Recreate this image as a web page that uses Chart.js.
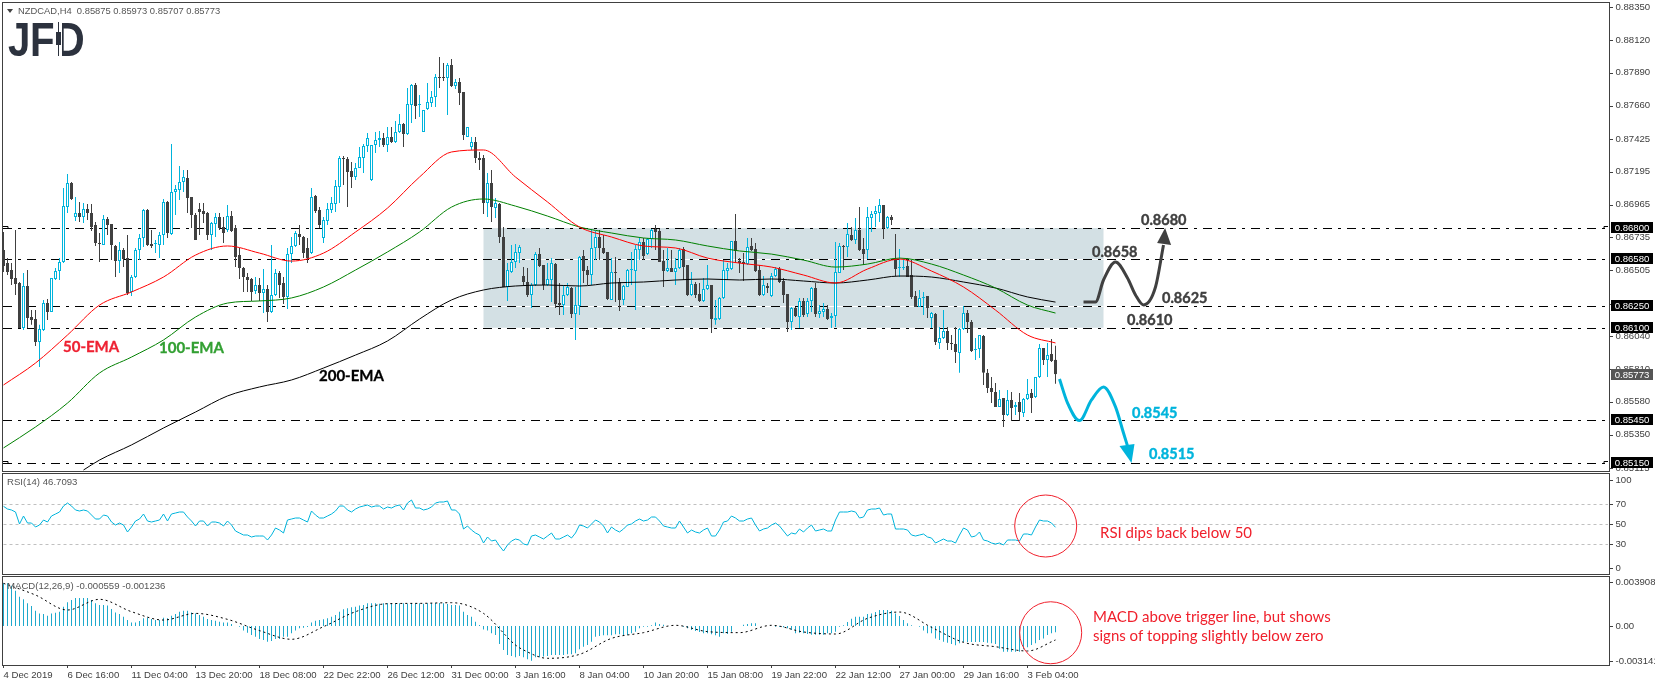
<!DOCTYPE html>
<html lang="en">
<head>
    <meta charset="UTF-8">
    <title>NZDCAD,H4</title>
    <script src="https://cdn.jsdelivr.net/npm/chart.js"></script>
    <style>
        body { margin: 0; background: #fff; }
        canvas { position: absolute; left: 0; }
    </style>
</head>
<body>
    <canvas id="main" width="1655" height="472" style="top:0"></canvas>
    <canvas id="rsi" width="1655" height="103" style="top:472px"></canvas>
    <canvas id="macd" width="1655" height="111" style="top:575px"></canvas>

    <script>
        // prices are in points (1 point = 0.00001)
        var opens = [
            86646,86555,86506,86449,86414,86098,86393,86176,86162,86000,
            86084,86274,86211,86442,86499,86562,86948,87116,86878,86906,
            86878,86934,86906,86821,86695,86681,86864,86828,86674,86569,
            86646,86590,86351,86456,86646,86730,86927,86688,86688,86681,
            86751,86983,86758,87053,87067,87123,87151,87018,86892,86934,
            86920,86906,86751,86828,86878,86807,86786,86885,86800,86611,
            86520,86456,86442,86358,86400,86344,86372,86211,86330,86485,
            86414,86316,86618,86674,86758,86737,86660,86625,87025,86927,
            86730,86850,86927,86969,87088,87292,87285,87201,87158,87222,
            87292,87376,87137,87383,87418,87432,87383,87439,87404,87474,
            87530,87460,87664,87804,87664,87474,87636,87678,87720,87860,
            87860,87853,87945,87797,87825,87755,87439,87369,87404,87292,
            87292,86976,87116,86941,86969,86737,86386,86492,86562,86625,
            86463,86421,86330,86400,86618,86541,86400,86435,86548,86274,
            86260,86330,86379,86197,86253,86604,86506,86471,86660,86737,
            86660,86632,86295,86492,86421,86295,86386,86506,86499,86646,
            86702,86618,86723,86793,86779,86569,86499,86520,86492,86520,
            86653,86541,86330,86407,86337,86288,86372,86400,86155,86162,
            86309,86499,86513,86709,86569,86562,86548,86674,86653,86506,
            86330,86393,86323,86463,86513,86428,86337,86141,86239,86176,
            86288,86197,86288,86379,86197,86211,86232,86169,86183,86485,
            86674,86667,86751,86716,86786,86653,86646,86871,86899,86906,
            86962,86800,86878,86583,86520,86520,86534,86471,86323,86246,
            86309,86323,86169,86197,85993,86028,86077,85993,85986,85923,
            86091,86204,86141,85944,85951,86042,85783,85677,85649,85544,
            85607,85488,85593,85544,85579,85502,85600,85642,85614,85754,
            85958,85874,85916,85875
        ];
        var highs = [
            86772,86590,86555,86786,86421,86485,86506,86225,86225,86120,
            86295,86302,86449,86520,86590,87081,87180,87123,87018,86983,
            86976,86969,86969,86843,86765,86892,86878,86828,86681,86702,
            86660,86751,86470,86660,86758,86934,86934,86786,86716,86772,
            87004,86990,87390,87102,87236,87208,87208,87018,86906,86976,
            86976,86913,86843,86906,86906,86878,86962,86920,86821,86660,
            86527,86485,86449,86456,86449,86513,86400,86681,86513,86499,
            86456,86660,86737,86779,86821,86744,86730,87081,87032,86948,
            86878,86976,87018,87137,87306,87306,87299,87264,87257,87369,
            87390,87467,87383,87474,87481,87467,87509,87509,87552,87601,
            87538,87783,87811,87818,87734,87629,87818,87762,87882,88001,
            87959,87959,87987,87846,87853,87755,87509,87439,87439,87334,
            87313,87187,87208,87011,86976,86807,86555,86681,86688,86681,
            86527,86520,86414,86632,86660,86541,86555,86590,86555,86414,
            86400,86414,86386,86386,86604,86646,86534,86793,86779,86786,
            86751,86632,86590,86597,86449,86400,86513,86632,86681,86730,
            86730,86730,86793,86821,86793,86646,86660,86646,86590,86660,
            86667,86541,86492,86421,86414,86449,86541,86400,86295,86316,
            86576,86555,86709,86899,86590,86625,86730,86730,86695,86541,
            86463,86414,86485,86527,86527,86449,86337,86246,86246,86309,
            86309,86309,86386,86414,86260,86274,86260,86204,86702,86695,
            86681,86836,86807,86871,86948,86730,86948,86920,86955,87004,
            86962,86885,86892,86758,86653,86583,86590,86576,86358,86365,
            86351,86323,86211,86204,86105,86225,86105,86049,86105,86098,
            86253,86225,86155,86028,86049,86049,85811,85754,85712,85663,
            85607,85663,85649,85579,85642,85607,85740,85670,85754,85986,
            85958,85993,86021,85973
        ];
        var lows = [
            86492,86470,86400,86330,86098,86084,86098,86120,85972,85825,
            86077,86155,86211,86435,86435,86555,86906,86997,86850,86843,
            86836,86857,86779,86674,86562,86681,86751,86576,86456,86485,
            86527,86330,86323,86449,86576,86667,86674,86660,86625,86590,
            86681,86730,86751,86892,86997,87053,86906,86800,86716,86751,
            86836,86716,86646,86737,86786,86695,86772,86772,86527,86442,
            86351,86351,86288,86337,86288,86204,86141,86204,86323,86309,
            86267,86232,86555,86667,86681,86590,86555,86618,86906,86800,
            86695,86821,86906,86913,86976,87102,86948,87081,87137,87222,
            87187,87334,87130,87327,87369,87369,87334,87397,87397,87467,
            87369,87453,87538,87566,87580,87474,87629,87650,87650,87783,
            87832,87594,87790,87776,87664,87418,87439,87348,87257,87208,
            86899,86878,86843,86871,86695,86386,86288,86485,86520,86555,
            86400,86316,86239,86393,86527,86365,86393,86281,86239,86190,
            86190,86323,86169,86014,86190,86414,86400,86400,86576,86576,
            86618,86295,86295,86281,86218,86260,86386,86400,86225,86576,
            86576,86611,86660,86646,86562,86386,86492,86492,86400,86513,
            86435,86323,86323,86309,86281,86281,86365,86063,86120,86155,
            86302,86435,86506,86562,86485,86428,86541,86639,86492,86323,
            86323,86344,86316,86456,86414,86274,86070,86084,86176,86098,
            86176,86176,86211,86176,86169,86176,86155,86098,86105,86485,
            86506,86597,86709,86688,86639,86541,86583,86772,86807,86843,
            86723,86793,86821,86463,86456,86506,86456,86302,86246,86246,
            86190,86169,86098,85979,85951,86021,85944,85944,85853,85783,
            86084,86063,85930,85874,85888,85698,85642,85572,85544,85544,
            85403,85481,85446,85488,85446,85474,85593,85502,85607,85747,
            85839,85754,85860,85707
        ];
        var closes = [
            86534,86492,86442,86407,86098,86393,86169,86155,86000,86091,
            86274,86211,86449,86499,86562,86955,87116,87004,86906,86878,
            86934,86906,86807,86695,86688,86864,86821,86681,86569,86646,
            86583,86344,86456,86646,86730,86927,86681,86674,86695,86751,
            86983,86765,87053,87074,87123,87158,87011,86892,86716,86913,
            86899,86751,86836,86878,86800,86765,86885,86779,86597,86520,
            86456,86435,86351,86400,86344,86372,86211,86330,86485,86400,
            86316,86618,86674,86765,86737,86625,86590,87018,86920,86821,
            86857,86934,86976,87095,87292,87285,87194,87158,87222,87299,
            87376,87432,87383,87418,87432,87383,87439,87404,87474,87530,
            87460,87671,87804,87657,87671,87629,87685,87720,87860,87853,
            87853,87945,87797,87825,87748,87453,87509,87404,87292,87278,
            86976,87116,86948,86976,86737,86386,86506,86562,86632,86667,
            86421,86330,86400,86618,86534,86400,86442,86555,86267,86260,
            86330,86386,86197,86260,86597,86499,86471,86660,86737,86660,
            86625,86302,86492,86485,86295,86393,86506,86513,86653,86702,
            86604,86723,86786,86772,86562,86499,86520,86492,86520,86646,
            86527,86330,86407,86330,86288,86372,86400,86162,86169,86309,
            86506,86520,86709,86639,86555,86548,86667,86646,86499,86330,
            86400,86379,86463,86513,86421,86330,86141,86239,86183,86288,
            86190,86288,86379,86197,86218,86232,86162,86183,86492,86674,
            86667,86758,86716,86786,86646,86618,86878,86899,86920,86962,
            86800,86878,86857,86513,86527,86527,86456,86316,86246,86309,
            86316,86239,86204,86000,86028,86077,85993,85986,85930,86091,
            86204,86141,85937,85951,86049,85783,85677,85649,85544,85600,
            85488,85593,85537,85558,85509,85600,85635,85607,85754,85958,
            85874,85909,85867,85773
        ];

        // EMAs
        var emaBars = [0,8,16,24,32,40,48,56,64,72,80,88,96,104,112,120,128,136,144,152,160,168,176,184,192,200,208,216,224,232,240,248,256,263];
        var ema50 = [.85698,.85852,.86049,.86259,.86351,.86456,.86610,.86674,.86624,.86568,.86624,.86772,.86940,.87158,.87334,.87348,.87158,.86983,.86807,.86737,.86674,.86660,.86589,.86554,.86526,.86470,.86414,.86512,.86582,.86498,.86386,.86224,.86049,.85993];
        var ema100 = [.85256,.85403,.85571,.85782,.85894,.86014,.86175,.86273,.86288,.86309,.86386,.86505,.86632,.86772,.86947,.87004,.86954,.86884,.86807,.86765,.86730,.86716,.86674,.86639,.86617,.86575,.86526,.86547,.86589,.86547,.86470,.86379,.86259,.86203];
        var ema200Bars = [20,24,32,40,48,56,64,72,80,88,96,104,112,120,128,136,144,152,160,168,176,184,192,200,208,216,224,232,240,248,256,263];
        var ema200 = [.85101,.85171,.85277,.85396,.85508,.85621,.85684,.85733,.85817,.85908,.86007,.86161,.86295,.86365,.86393,.86400,.86393,.86414,.86421,.86435,.86442,.86435,.86442,.86428,.86414,.86435,.86463,.86456,.86421,.86379,.86316,.86280];

        var rsiValues = [
            67.7,65,64,62,50,58,51,51,47,49,
            54,52,58,60,62,68,71,68,64,63,
            64,63,59,55,55,59,58,52,49,51,
            49,42,47,53,55,60,53,52,53,54,
            60,53,60,61,62,62,57,53,48,53,
            53,48,52,52,51,48,53,49,43,41,
            39,39,37,38,38,38,34,39,46,44,
            41,54,55,56,56,54,52,63,59,56,
            56,58,60,63,68,68,64,62,65,67,
            68,69,67,68,68,65,67,66,68,69,
            64,71,74,66,66,64,65,67,71,72,
            72,73,64,64,60,45,48,44,41,39,
            31,37,33,34,28,23,29,33,35,34,
            30,29,38,39,37,35,38,41,35,35,
            37,39,36,41,49,48,46,50,54,52,
            48,41,47,44,42,45,49,50,53,55,
            53,54,57,57,53,48,47,46,46,53,
            47,41,44,42,41,44,46,38,38,44,
            52,53,58,56,53,53,55,56,49,43,
            45,46,49,51,48,43,38,41,40,45,
            42,46,49,43,44,45,43,43,54,62,
            62,62,63,62,56,57,64,65,65,66,
            59,60,60,45,45,45,44,39,38,39,
            40,37,36,31,33,35,33,33,31,39,
            46,44,37,38,42,34,33,31,30,31,
            29,34,34,34,33,40,40,39,47,54,
            53,53,51,46.7
        ];

        var macdHist = [
            .00379,.00379,.00358,.00314,.00260,.00237,.00201,.00178,.00136,.00112,
            .00107,.00092,.00112,.00118,.00127,.00172,.00210,.00231,.00249,.00249,
            .00249,.00249,.00231,.00201,.00186,.00186,.00181,.00151,.00121,.00107,
            .00083,.00053,.00030,.00030,.00044,.00068,.00074,.00062,.00053,.00053,
            .00074,.00068,.00092,.00107,.00127,.00136,.00136,.00121,.00112,.00098,
            .00083,.00062,.00053,.00047,.00038,.00030,.00030,.00018,.00000,-.00006,
            -.00041,-.00059,-.00080,-.00095,-.00115,-.00124,-.00139,-.00133,-.00115,-.00115,
            -.00095,-.00095,-.00065,-.00041,-.00021,-.00015,-.00009,.00030,.00047,.00053,
            .00059,.00068,.00083,.00098,.00127,.00148,.00157,.00166,.00172,.00181,
            .00186,.00201,.00201,.00201,.00198,.00201,.00201,.00198,.00201,.00201,
            .00201,.00198,.00204,.00201,.00201,.00198,.00201,.00201,.00204,.00204,
            .00201,.00195,.00186,.00186,.00181,.00127,.00098,.00083,.00038,.00009,
            -.00030,-.00041,-.00065,-.00080,-.00160,-.00213,-.00258,-.00266,-.00278,-.00266,
            -.00278,-.00296,-.00308,-.00278,-.00278,-.00272,-.00266,-.00258,-.00258,-.00258,
            -.00258,-.00252,-.00252,-.00243,-.00207,-.00184,-.00169,-.00139,-.00095,-.00089,
            -.00083,-.00083,-.00083,-.00074,-.00074,-.00080,-.00080,-.00065,-.00050,-.00021,
            -.00006,-.00006,.00006,.00030,.00018,.00012,.00000,.00000,.00000,.00000,
            -.00006,-.00021,-.00036,-.00044,-.00053,-.00065,-.00065,-.00074,-.00083,-.00095,
            -.00065,-.00071,-.00050,.00000,.00000,.00012,.00018,.00024,.00024,.00000,
            .00000,.00000,.00000,-.00006,-.00006,-.00012,-.00021,-.00036,-.00065,-.00059,
            -.00065,-.00071,-.00077,-.00077,-.00077,-.00077,-.00065,-.00065,-.00050,-.00006,
            .00006,.00036,.00065,.00083,.00083,.00083,.00107,.00112,.00124,.00142,
            .00142,.00142,.00136,.00112,.00089,.00053,.00024,.00006,.00000,-.00006,
            -.00041,-.00065,-.00065,-.00110,-.00124,-.00139,-.00148,-.00160,-.00172,-.00154,
            -.00142,-.00142,-.00142,-.00142,-.00142,-.00142,-.00148,-.00154,-.00160,-.00201,
            -.00228,-.00228,-.00228,-.00228,-.00228,-.00207,-.00189,-.00169,-.00154,-.00124,
            -.00110,-.00080,-.00065,-.00056
        ];
        var signalBars = [0,8,16,24,32,40,48,56,64,72,80,88,96,104,112,120,128,130,136,144,152,160,168,176,184,192,200,208,216,224,232,240,248,256,263];
        var signalValues = [.00379,.00275,.00142,.00237,.00127,.00053,.00112,.00059,-.00041,-.00118,-.00006,.00127,.00198,.00201,.00207,.00112,-.00169,-.00213,-.00287,-.00252,-.00110,-.00059,.00006,-.00050,-.00059,.00006,-.00053,-.00071,.00068,.00124,-.00012,-.00145,-.00184,-.00222,-.00124];

        var timeLabels = ['4 Dec 2019','6 Dec 16:00','11 Dec 04:00','13 Dec 20:00','18 Dec 08:00','22 Dec 22:00','26 Dec 12:00','31 Dec 00:00','3 Jan 16:00','8 Jan 04:00','10 Jan 20:00','15 Jan 08:00','19 Jan 22:00','22 Jan 12:00','27 Jan 00:00','29 Jan 16:00','3 Feb 04:00'];
        var priceTicks = [.8835,.8812,.8789,.8766,.87425,.87195,.86965,.86735,.86505,.8627,.8604,.8581,.8558,.8535,.85115];
        var rsiTicks = [100,70,50,30,0];
        var macdTicks = [.003908,0,-.003141];
        var levels = [.868,.8658,.8625,.861,.8545,.8515];
        var lastPrice = .85773;

        // projected paths
        var upBars = [270,273,275,278,281,283,285,288,290];
        var upValues = [.86281,.86281,.86435,.86562,.86449,.86330,.86260,.86386,.86681];
        var downBars = [264,266,269,272,275,278,280,281];
        var downValues = [.85740,.85572,.85448,.85593,.85684,.85544,.85361,.85270];

        var BARS_ON_SCREEN = 402;
        var CYAN = '#00b4dc', DARK = '#404040', RED = '#f0202c';
        var AXIS_FONT = '"Liberation Sans", Arial, sans-serif';

        var labels = [];
        for (var i = 0; i < BARS_ON_SCREEN; i++) {
            labels.push(i % 16 === 0 && timeLabels[i / 16] ? timeLabels[i / 16] : '');
        }

        // the category scale wants one slot per bar, so empty bars stay null
        function sparse(bars, values) {
            var out = [];
            for (var b = 0; b <= bars[bars.length - 1]; b++) out.push(null);
            bars.forEach(function(bar, i) { out[bar] = values[i]; });
            return out;
        }

        function lineSet(data, color, width, order, dash) {
            return { type: 'line', data: data, borderColor: color, borderWidth: width, borderDash: dash || [], pointRadius: 0, order: order, spanGaps: true, cubicInterpolationMode: 'monotone', clip: false };
        }

        function text(c, str, x, y, font, color, align, stroke) {
            c.font = font;
            c.fillStyle = color;
            c.textAlign = align || 'left';
            c.textBaseline = 'middle';
            c.fillText(str, x, y);
            if (stroke) {
                c.strokeStyle = color;
                c.lineWidth = stroke;
                c.strokeText(str, x, y);
            }
        }

        function drawFrame(chart) {
            var a = chart.chartArea, c = chart.ctx;
            c.fillStyle = DARK;
            c.fillRect(2, a.top - 1, 1608, 1);
            c.fillRect(2, a.bottom, 1608, 1);
            c.fillRect(2, a.top - 1, 1, a.bottom - a.top + 2);
            c.fillRect(1609, a.top - 1, 1, a.bottom - a.top + 2);
            chart.scales.y.ticks.forEach(function(t) {
                c.fillRect(1610, Math.round(chart.scales.y.getPixelForValue(t.value)), 3, 1);
            });
        }

        function baseOptions(min, max, ticks, labelFn, padding) {
            return {
                responsive: false,
                animation: false,
                devicePixelRatio: 1,
                events: [],
                layout: { autoPadding: false, padding: padding },
                plugins: { legend: { display: false }, tooltip: { enabled: false } },
                scales: {
                    x: { type: 'category', offset: false, display: false, grid: { display: false, offset: false } },
                    y: {
                        position: 'right', min: min, max: max,
                        afterFit: function(s) { s.width = 47.5; s.paddingTop = 0; s.paddingBottom = 0; },
                        afterBuildTicks: function(s) { s.ticks = ticks.map(function(v) { return { value: v }; }); },
                        border: { display: false },
                        grid: { display: false, drawTicks: false },
                        ticks: { autoSkip: false, padding: 8, color: DARK, font: { family: AXIS_FONT, size: 9.6 }, callback: labelFn }
                    }
                }
            };
        }

        // main pane
        var isUp = function(i) { return closes[i] >= opens[i]; };
        var candleColor = function(ctx) { return isUp(ctx.dataIndex) ? CYAN : DARK; };
        var mainOptions = baseOptions(.85094, .88380, priceTicks, function(v) { return v.toFixed(5); }, { left: 3.5, top: 3, right: 0, bottom: 1 });

        new Chart(document.getElementById('main'), {
            type: 'bar',
            data: {
                labels: labels,
                datasets: [
                    lineSet(sparse(emaBars, ema50), '#ff0000', 1, 1),
                    lineSet(sparse(emaBars, ema100), '#008000', 1, 1),
                    lineSet(sparse(ema200Bars, ema200), '#000000', 1, 1),
                    lineSet(sparse(upBars, upValues), DARK, 3, 0),
                    lineSet(sparse(downBars, downValues), CYAN, 3, 0),
                    {
                        data: highs.map(function(h, i) { return [lows[i] / 1e5, h / 1e5]; }),
                        backgroundColor: candleColor, barThickness: 1, grouped: false, inflateAmount: 0, order: 3, clip: false
                    },
                    {
                        data: opens.map(function(o, i) { return [o / 1e5, closes[i] / 1e5]; }),
                        backgroundColor: function(ctx) { return isUp(ctx.dataIndex) ? '#ffffff' : DARK; },
                        borderColor: candleColor, borderWidth: 1, borderSkipped: false,
                        barThickness: 3, grouped: false, inflateAmount: 0, minBarLength: 1, order: 2, clip: false
                    }
                ]
            },
            options: mainOptions,
            plugins: [{
                id: 'mainDecor',
                beforeDatasetsDraw: function(chart) {
                    var c = chart.ctx, xs = chart.scales.x, ys = chart.scales.y;
                    var top = ys.getPixelForValue(levels[0]), bottom = ys.getPixelForValue(levels[3]);
                    var left = xs.getPixelForValue(120), right = xs.getPixelForValue(275);
                    c.fillStyle = '#d3e0e4';
                    c.fillRect(left, top, right - left, bottom - top);
                    c.fillStyle = '#ffffff';
                    [levels[1], levels[2]].forEach(function(l) {
                        c.fillRect(left, Math.round(ys.getPixelForValue(l)), right - left, 1);
                    });
                    c.save();
                    c.strokeStyle = '#000000';
                    c.lineWidth = 1;
                    c.setLineDash([9, 6, 3, 6]);
                    levels.forEach(function(l) {
                        var y = Math.round(ys.getPixelForValue(l)) + .5;
                        c.beginPath();
                        c.moveTo(3, y);
                        c.lineTo(1609, y);
                        c.stroke();
                    });
                    c.restore();
                },
                afterDraw: function(chart) {
                    var c = chart.ctx, xs = chart.scales.x, ys = chart.scales.y;
                    drawFrame(chart);

                    // arrow heads
                    function head(bar, value, color, dx1, dy1, dx2, dy2) {
                        var x = xs.getPixelForValue(bar), y = ys.getPixelForValue(value);
                        c.fillStyle = color;
                        c.beginPath();
                        c.moveTo(x, y);
                        c.lineTo(x + dx1, y + dy1);
                        c.lineTo(x + dx2, y + dy2);
                        c.closePath();
                        c.fill();
                    }
                    head(290.4, .86800, DARK, -8, 15, 6, 17);
                    head(282, .85150, CYAN, -12, -17, 3, -19);

                    // level tags on the axis
                    levels.forEach(function(l) {
                        var y = Math.round(ys.getPixelForValue(l));
                        c.fillStyle = '#000000';
                        c.fillRect(1611, y - 6, 42, 11);
                        text(c, l.toFixed(5), 1632, y, '9.6px ' + AXIS_FONT, '#ffffff', 'center');
                    });
                    var py = Math.round(ys.getPixelForValue(lastPrice));
                    c.fillStyle = '#555555';
                    c.fillRect(1611, py - 5, 42, 11);
                    text(c, lastPrice.toFixed(5), 1632, py + 1, '9.6px ' + AXIS_FONT, '#ffffff', 'center');

                    // small price hooks
                    c.strokeStyle = '#000000';
                    c.lineWidth = 1;
                    [levels[0], levels[5]].forEach(function(l) {
                        var y = Math.round(ys.getPixelForValue(l)) + .5;
                        c.beginPath();
                        c.moveTo(3, y - 2); c.lineTo(8, y - 2); c.lineTo(8, y);
                        c.moveTo(1604, y); c.lineTo(1604, y - 2); c.lineTo(1608, y - 2);
                        c.stroke();
                    });

                    // header
                    c.fillStyle = DARK;
                    c.beginPath();
                    c.moveTo(7, 9); c.lineTo(13, 9); c.lineTo(10, 13);
                    c.closePath();
                    c.fill();
                    text(c, 'NZDCAD,H4  0.85875 0.85973 0.85707 0.85773', 18, 11, '9.4px ' + AXIS_FONT, '#555555');

                    // logo
                    var g = c.createLinearGradient(0, 20, 0, 56);
                    g.addColorStop(0, '#2c323e');
                    g.addColorStop(1, '#505660');
                    function letter(ch, x, sx) {
                        c.save();
                        c.translate(x, 56);
                        c.scale(sx, 1);
                        c.font = 'bold 49px ' + AXIS_FONT;
                        c.fillStyle = g;
                        c.textAlign = 'left';
                        c.textBaseline = 'alphabetic';
                        c.fillText(ch, 0, 0);
                        c.restore();
                    }
                    letter('J', 8, .82);
                    letter('F', 30, .82);
                    letter('D', 55, .84);
                    c.fillStyle = '#ffffff';
                    c.fillRect(55, 20, 7, 37);
                    c.fillStyle = '#2c323e';
                    c.fillRect(58, 22, 1, 34);
                    c.fillRect(56, 32, 5, 13);

                    // notes
                    var bold = 'bold 14.5px Lato, sans-serif';
                    text(c, '0.8680', 1141, 220, bold, DARK, 'left', .4);
                    text(c, '0.8658', 1092, 252, bold, DARK, 'left', .4);
                    text(c, '0.8625', 1162, 298, bold, DARK, 'left', .4);
                    text(c, '0.8610', 1127, 320, bold, DARK, 'left', .4);
                    text(c, '0.8545', 1132, 413, bold, CYAN, 'left', .4);
                    text(c, '0.8515', 1149, 454, bold, CYAN, 'left', .4);
                    var ema = 'bold 15px Lato, sans-serif';
                    text(c, '50-EMA', 63, 347, ema, '#ee2233', 'left', .3);
                    text(c, '100-EMA', 159, 348, ema, '#33a033', 'left', .3);
                    text(c, '200-EMA', 319, 376, ema, '#000000', 'left', .3);
                }
            }]
        });

        // RSI pane
        var rsiOptions = baseOptions(0, 100, [94, 70, 50, 30, 6], function(v, i) { return rsiTicks[i]; }, { left: 3.5, top: 2, right: 0, bottom: 1 });
        rsiOptions.scales.y.border = { display: false, dash: [3, 3] };
        rsiOptions.scales.y.grid = {
            display: true, drawTicks: false, lineWidth: 1,
            color: function(ctx) { return [70, 50, 30].indexOf(ctx.tick.value) >= 0 ? '#c0c0c0' : 'rgba(0,0,0,0)'; }
        };
        new Chart(document.getElementById('rsi'), {
            type: 'line',
            data: {
                labels: labels,
                datasets: [{ data: rsiValues, borderColor: CYAN, borderWidth: 1, pointRadius: 0, tension: 0 }]
            },
            options: rsiOptions,
            plugins: [{
                id: 'rsiDecor',
                afterDraw: function(chart) {
                    var c = chart.ctx, xs = chart.scales.x, ys = chart.scales.y;
                    drawFrame(chart);
                    text(c, 'RSI(14) 46.7093', 7, 10, '9.6px ' + AXIS_FONT, '#555555');
                    c.strokeStyle = RED;
                    c.lineWidth = 1;
                    c.beginPath();
                    c.arc(xs.getPixelForValue(260.55), ys.getPixelForValue(48), 31, 0, Math.PI * 2);
                    c.stroke();
                    text(c, 'RSI dips back below 50', 1100, 61, '15px Lato, sans-serif', RED);
                }
            }]
        });

        // MACD pane
        var macdOptions = baseOptions(-.003464, .004352, macdTicks, function(v) { return v === 0 ? '0.00' : v.toFixed(6); }, { left: 3.5, top: 2, right: 0, bottom: 0 });
        macdOptions.scales.x = {
            type: 'category', offset: false, display: true,
            afterFit: function(s) { s.height = 21; s.paddingLeft = 0; s.paddingRight = 0; },
            border: { display: false },
            grid: {
                offset: false, drawOnChartArea: false, tickLength: 3,
                tickColor: function(ctx) { return ctx.index % 16 === 0 && ctx.index <= 256 ? DARK : 'rgba(0,0,0,0)'; }
            },
            ticks: { autoSkip: false, maxRotation: 0, align: 'start', padding: 2, color: DARK, font: { family: AXIS_FONT, size: 9.6 } }
        };
        new Chart(document.getElementById('macd'), {
            type: 'bar',
            data: {
                labels: labels,
                datasets: [
                    lineSet(sparse(signalBars, signalValues), '#000000', 1, 1, [2, 3]),
                    { data: macdHist, backgroundColor: '#1fa9cc', barThickness: 1, inflateAmount: 0, grouped: false, order: 2, clip: false }
                ]
            },
            options: macdOptions,
            plugins: [{
                id: 'macdDecor',
                afterDraw: function(chart) {
                    var c = chart.ctx, xs = chart.scales.x, ys = chart.scales.y;
                    drawFrame(chart);
                    text(c, 'MACD(12,26,9) -0.000559 -0.001236', 7, 11, '9.6px ' + AXIS_FONT, '#555555');
                    c.strokeStyle = RED;
                    c.lineWidth = 1;
                    c.beginPath();
                    c.arc(xs.getPixelForValue(261.8), ys.getPixelForValue(-.0006), 31, 0, Math.PI * 2);
                    c.stroke();
                    text(c, 'MACD above trigger line, but shows', 1093, 42, '15px Lato, sans-serif', RED);
                    text(c, 'signs of topping slightly below zero', 1093, 61, '15px Lato, sans-serif', RED);
                }
            }]
        });
    </script>
</body>
</html>
